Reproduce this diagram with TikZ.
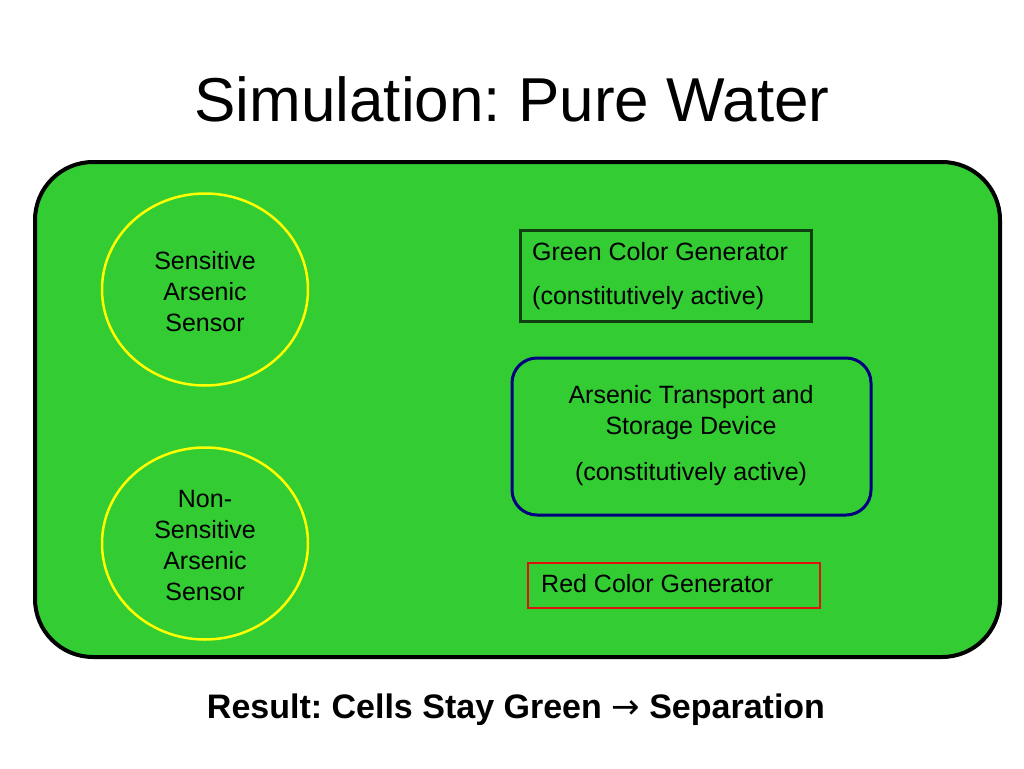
\documentclass[tikz,border=0pt]{standalone}
\usepackage{fontspec}
\setmainfont{Liberation Sans}
\newfontfamily\arrowfont{DejaVu Sans}
\frenchspacing
\definecolor{cellgreen}{HTML}{33CC33}
\definecolor{boxdkgreen}{HTML}{0F3F0F}
\definecolor{boxnavy}{HTML}{000080}
\definecolor{boxred}{HTML}{E01010}
\definecolor{ringyellow}{HTML}{FFFF00}
\begin{document}
\begin{tikzpicture}[x=1pt,y=-1pt,
  txt/.style={font=\fontsize{25}{31}\selectfont, text=black, inner sep=0pt},
]
\path[use as bounding box] (0,0) rectangle (1024,768);
\fill[white] (0,0) rectangle (1024,768);
\node[inner sep=0pt, font=\fontsize{62}{64}\selectfont] (title) at (512,99) {Simulation: Pure Water};
\draw[line width=4pt, fill=cellgreen, rounded corners=58pt] (35,162) rectangle (1000,657);
% sensors
\draw[draw=ringyellow, line width=2.5pt] (205,289.5) ellipse [x radius=103, y radius=96];
\node[txt, align=center] (s1) at (205,292) {Sensitive\\Arsenic\\Sensor};
\draw[draw=ringyellow, line width=2.5pt] (205,543.5) ellipse [x radius=103, y radius=96];
\node[txt, align=center] (s2) at (205,546) {Non-\\Sensitive\\Arsenic\\Sensor};
% green generator
\draw[draw=boxdkgreen, line width=3pt] (520,230) rectangle (811,321);
\node[txt, anchor=west] (g1) at (532,252) {Green Color Generator};
\node[txt, anchor=west] (g2) at (532,298) {(constitutively active)};
% transport
\draw[draw=boxnavy, line width=3pt, rounded corners=25pt] (512,358) rectangle (871,515);
\node[txt, align=center] (t1) at (691,413) {Arsenic Transport and\\Storage Device};
\node[txt] (t2) at (691,474) {(constitutively active)};
% red generator
\draw[draw=boxred, line width=2.5pt] (528,563) rectangle (820,608);
\node[txt, anchor=west] (r1) at (541,584) {Red Color Generator};
% result
\node[inner sep=0pt, font=\fontsize{34}{36}\selectfont\bfseries] (res) at (516,710) {Result: Cells Stay Green {\arrowfont\mdseries →} Separation};
\end{tikzpicture}
\end{document}
